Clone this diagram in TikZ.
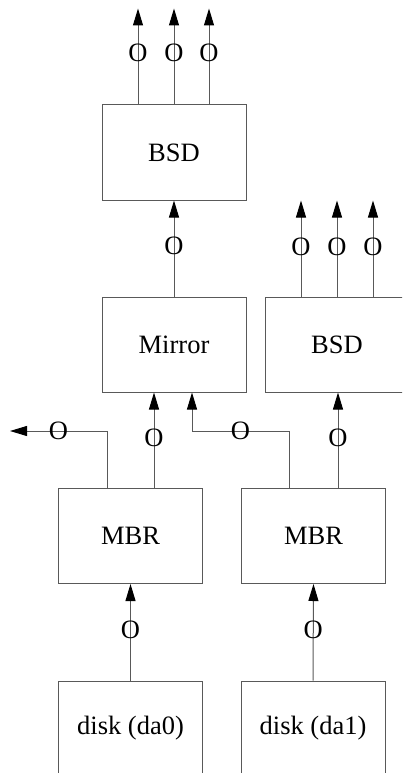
\documentclass[tikz,border=0pt]{standalone}
\usepackage{fontspec}
\setmainfont{Liberation Serif}
\usetikzlibrary{arrows.meta}
\begin{document}
\begin{tikzpicture}[x=1pt,y=-1pt,
  wire/.style={draw=black!65, line width=1pt},
  flow/.style={wire, -{Triangle[length=17pt,width=10pt,color=black]}},
  block/.style={draw=black!65, line width=1pt, minimum width=144pt,
    minimum height=95pt, inner sep=0pt, font=\fontsize{26.5}{31}\selectfont},
  tag/.style={font=\fontsize{26.5}{31}\selectfont, inner sep=0pt, anchor=center}]
\useasboundingbox (0,0) rectangle (402,773);
\clip (0,0) rectangle (402,773);

% geom layers
\node[block] (bsdA)   at (174,152.5) {BSD};
\node[block] (mirror) at (174,344.5) {Mirror};
\node[block] (bsdB)   at (337,344.5) {BSD};
\node[block] (mbrA)   at (130.5,536) {MBR};
\node[block] (mbrB)   at (313.5,536) {MBR};
\node[block] (diskA)  at (130.5,728.5) {disk (da0)};
\node[block] (diskB)  at (313,728.5) {disk (da1)};

% free ends and junctions
\coordinate (spareA) at (10,431);
\coordinate (jB) at (192,431);
\coordinate (inA) at (154,0);

% disks into MBR
\draw[flow] (diskA.north) -- node[tag,pos=0.53] {O} (mbrA.south);
\draw[flow] (diskB.north) -- node[tag,pos=0.53] {O} (mbrB.south);

% MBR slices
\draw[flow] ([xshift=-23.5pt]mbrA.north) |- node[tag,pos=0.75] {O} (spareA);
\draw[flow] (mbrA.north -| inA) -- node[tag,pos=0.53] {O} (mirror.south -| inA);
\draw[flow] ([xshift=-24.5pt]mbrB.north) |- node[tag,pos=0.75] {O} (jB)
  -- (mirror.south -| jB);
\draw[flow] ([xshift=24.5pt]mbrB.north) -- node[tag,pos=0.53] {O}
  ([xshift=24.5pt]mbrB.north |- bsdB.south);

% mirror into BSD
\draw[flow] (mirror.north) -- node[tag,pos=0.53] {O} (bsdA.south);

% BSD partitions
\foreach \dx in {-36,0,35} {
  \draw[flow] ([xshift=\dx pt]bsdA.north) -- node[tag,pos=0.54] {O}
    ++(0,-96);
}
\foreach \dx in {-36,0,36} {
  \draw[flow] ([xshift=\dx pt]bsdB.north) -- node[tag,pos=0.52] {O}
    ++(0,-96);
}
\end{tikzpicture}
\end{document}
